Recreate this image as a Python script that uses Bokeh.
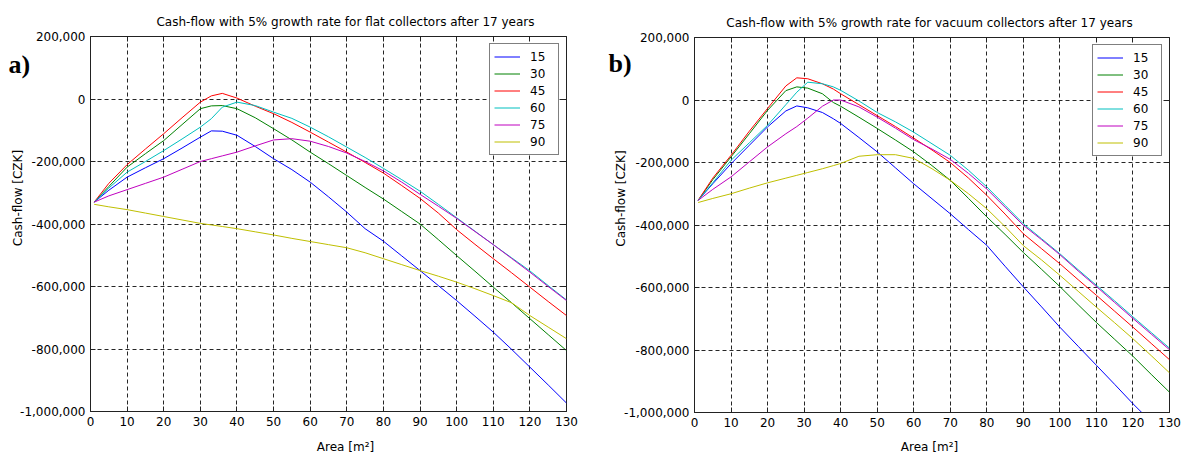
import math
from bokeh.plotting import figure
from bokeh.models import (Range1d, Label, LinearAxis, FixedTicker,
                          NumeralTickFormatter, GridBox)
from bokeh.embed import file_html
from bokeh.resources import INLINE

# ---------------- data ----------------
series_names = ["15", "30", "45", "60", "75", "90"]
series_colors = ["#0000ff", "#008000", "#ff0000", "#00bfbf", "#bf00bf", "#bfbf00"]

x_ticks = [0, 10, 20, 30, 40, 50, 60, 70, 80, 90, 100, 110, 120, 130]
y_ticks = [-1000000, -800000, -600000, -400000, -200000, 0, 200000]

# a) flat collectors
area_a = [1, 5, 10, 15, 20, 25, 30, 33, 36, 40, 45, 50, 55, 60, 65, 70,
          75, 80, 85, 90, 95, 100, 105, 110, 115, 120, 125, 130]
flat_15 = [-330000, -292000, -250000, -220000, -191000, -157000, -122000, -102000,
           -103000, -116000, -152000, -191000, -226000, -266000, -313000, -362000,
           -415000, -455000, -502000, -549000, -597000, -645000, -695000, -746000,
           -801000, -858000, -915000, -973000]
flat_30 = [-330000, -280000, -218000, -175000, -133000, -82000, -31000, -22000,
           -21000, -31000, -60000, -95000, -131000, -170000, -207000, -245000,
           -283000, -320000, -360000, -400000, -450000, -501000, -551000, -602000,
           -652000, -703000, -754000, -805000]
flat_45 = [-330000, -270000, -210000, -160000, -111000, -60000, -10000, 10000,
           18000, 3000, -23000, -47000, -75000, -106000, -138000, -170000,
           -203000, -237000, -277000, -318000, -365000, -418000, -465000, -511000,
           -556000, -602000, -648000, -693000]
flat_60 = [-330000, -285000, -234000, -200000, -165000, -128000, -90000, -63000,
           -26000, -10000, -21000, -42000, -62000, -90000, -121000, -154000,
           -187000, -222000, -258000, -295000, -337000, -380000, -423000, -466000,
           -508000, -550000, -597000, -643000]
flat_75 = [-330000, -310000, -290000, -270000, -250000, -225000, -200000, -191000,
           -182000, -170000, -150000, -131000, -127000, -135000, -152000, -173000,
           -200000, -230000, -266000, -305000, -343000, -382000, -424000, -466000,
           -510000, -554000, -600000, -645000]
flat_90 = [-337000, -345000, -354000, -365000, -376000, -387000, -398000, -403000,
           -408000, -415000, -425000, -435000, -446000, -456000, -466000, -476000,
           -492000, -511000, -530000, -549000, -567000, -586000, -607000, -629000,
           -652000, -693000, -730000, -767000]

# b) vacuum collectors
area_b = [1, 5, 10, 15, 20, 25, 28, 31, 35, 38, 40, 45, 50, 55, 60, 65, 70,
          75, 80, 85, 90, 95, 100, 105, 110, 115, 120, 125, 130]
vac_15 = [-321000, -268000, -204000, -145000, -86000, -35000, -19000, -25000,
          -40000, -60000, -75000, -120000, -166000, -217000, -268000, -316000,
          -364000, -415000, -465000, -532000, -598000, -662000, -727000, -788000,
          -849000, -910000, -972000, -1030000, -1090000]
vac_30 = [-321000, -255000, -182000, -108000, -33000, 30000, 42000, 38000,
          20000, -8000, -20000, -55000, -91000, -128000, -166000, -210000,
          -257000, -315000, -374000, -430000, -488000, -542000, -597000, -655000,
          -712000, -766000, -820000, -878000, -935000]
vac_45 = [-321000, -250000, -177000, -100000, -27000, 45000, 71000, 68000,
          52000, 35000, 20000, -15000, -50000, -85000, -122000, -160000,
          -200000, -250000, -305000, -365000, -428000, -476000, -524000, -575000,
          -625000, -676000, -727000, -779000, -831000]
vac_60 = [-321000, -265000, -193000, -137000, -81000, -15000, 25000, 57000,
          52000, 42000, 31000, -3000, -40000, -70000, -103000, -140000,
          -177000, -225000, -278000, -337000, -396000, -444000, -492000, -543000,
          -593000, -643000, -694000, -744000, -794000]
vac_75 = [-321000, -286000, -246000, -198000, -150000, -108000, -85000, -58000,
          -20000, 0, 0, -22000, -55000, -90000, -127000, -157000,
          -190000, -235000, -285000, -343000, -401000, -447000, -495000, -547000,
          -597000, -648000, -699000, -749000, -799000]
vac_90 = [-328000, -315000, -300000, -282000, -265000, -250000, -241000, -232000,
          -220000, -210000, -203000, -180000, -175000, -175000, -187000, -220000,
          -257000, -300000, -348000, -405000, -466000, -512000, -561000, -612000,
          -663000, -713000, -764000, -818000, -873000]

title_a = "Cash-flow with 5% growth rate for flat collectors after 17 years"
title_b = "Cash-flow with 5% growth rate for vacuum collectors after 17 years"
x_label = "Area [m\u00b2]"
y_label = "Cash-flow [CZK]"

FONT = "DejaVu Sans"
AX = "#222222"
PAGE_W, PAGE_H = 1187, 455


def make_panel(area, ys, width, bl, br, bt, bb):
    p = figure(width=width, height=PAGE_H, output_backend="svg", toolbar_location=None,
               x_range=Range1d(0, 130), y_range=Range1d(-1000000, 200000),
               min_border_left=bl, min_border_right=br,
               min_border_top=bt, min_border_bottom=bb)
    p.frame_align = False
    p.background_fill_color = "white"
    p.border_fill_color = "white"
    p.outline_line_color = AX
    p.outline_line_width = 1

    for y, name, col in zip(ys, series_names, series_colors):
        p.line(area, y, line_color=col, line_width=1, legend_label=name)

    xt = FixedTicker(ticks=x_ticks)
    yt = FixedTicker(ticks=y_ticks)
    p.xaxis.ticker = xt
    p.yaxis.ticker = yt
    p.yaxis.formatter = NumeralTickFormatter(format="0,0")
    for ax in (p.xaxis[0], p.yaxis[0]):
        ax.major_tick_in = 5
        ax.major_tick_out = 0
        ax.minor_tick_line_color = None
        ax.major_tick_line_color = AX
        ax.axis_line_color = AX
        ax.major_label_text_font = FONT
        ax.major_label_text_font_size = "12px"
        ax.major_label_text_color = "#000000"
        ax.major_label_standoff = 5

    # inward ticks on the right and top edges of the box (no labels)
    for side, tk in (("right", yt), ("above", xt)):
        ax = LinearAxis(ticker=tk)
        ax.major_tick_in = 5
        ax.major_tick_out = 0
        ax.minor_tick_line_color = None
        ax.major_tick_line_color = AX
        ax.axis_line_color = None
        ax.major_label_text_color = None
        ax.major_label_text_font_size = "0px"
        ax.major_label_standoff = 0
        p.add_layout(ax, side)

    for g, tk in ((p.xgrid[0], xt), (p.ygrid[0], yt)):
        g.ticker = tk
        g.grid_line_color = "#000000"
        g.grid_line_alpha = 0.85
        g.grid_line_dash = "4 3"
        g.grid_line_width = 1

    lg = p.legend[0]
    lg.location = "top_right"
    lg.margin = 7
    lg.padding = 4
    lg.spacing = 0
    lg.label_height = 17
    lg.glyph_height = 17
    lg.glyph_width = 26
    lg.label_standoff = 10
    lg.label_width = 24
    lg.label_text_font = FONT
    lg.label_text_font_size = "12px"
    lg.label_text_color = "#000000"
    lg.border_line_color = "#000000"
    lg.border_line_width = 1
    lg.background_fill_color = "white"
    lg.background_fill_alpha = 1.0
    return p


pa = make_panel(area_a, [flat_15, flat_30, flat_45, flat_60, flat_75, flat_90],
                590, 90, 24, 36, 44)
pb = make_panel(area_b, [vac_15, vac_30, vac_45, vac_60, vac_75, vac_90],
                597, 104, 18, 37, 43)

# transparent text layer over both panels (titles, axis labels, panel letters)
ov = figure(width=PAGE_W, height=PAGE_H, output_backend="svg", toolbar_location=None,
            x_range=Range1d(0, 1), y_range=Range1d(0, 1),
            x_axis_location=None, y_axis_location=None,
            min_border=0, min_border_left=0, min_border_right=0,
            min_border_top=0, min_border_bottom=0)
ov.frame_align = False
ov.xgrid.visible = False
ov.ygrid.visible = False
ov.outline_line_color = None
ov.background_fill_color = None
ov.border_fill_color = None


def add_text(txt, x, y, size="12px", angle=0.0, align="center",
             font=FONT, style="normal"):
    ov.add_layout(Label(x=x, y=PAGE_H - y, x_units="screen", y_units="screen",
                        text=txt, angle=angle, text_font=font, text_font_size=size,
                        text_font_style=style, text_align=align,
                        text_baseline="middle", text_color="#000000"))


add_text(title_a, 345, 21)
add_text(title_b, 929, 22.5)
add_text(x_label, 345, 446)
add_text(x_label, 929, 446)
add_text(y_label, 17.5, 197.5, angle=math.pi / 2)
add_text(y_label, 620, 198, angle=math.pi / 2)
add_text("a)", 8, 64, size="26px", align="left", font="Liberation Serif", style="bold")
add_text("b)", 608, 62.5, size="26px", align="left", font="Liberation Serif", style="bold")

layout = GridBox(children=[(pa, 0, 0), (pb, 0, 1), (ov, 0, 0, 1, 2)], spacing=0)
open("out.html", "w").write(file_html(layout, INLINE))
